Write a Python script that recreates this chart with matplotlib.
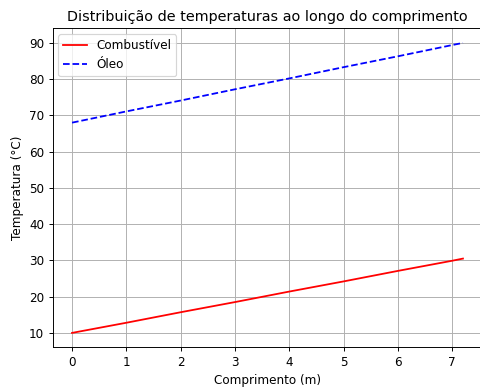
import matplotlib
matplotlib.use('Agg')
import matplotlib.pyplot as plt

comprimento = [0, 1, 2, 3, 4, 5, 6, 7, 7.2]
t_combustivel = [10.0, 12.8, 15.7, 18.5, 21.4, 24.2, 27.1, 29.9, 30.5]
t_oleo = [68.0, 71.1, 74.1, 77.2, 80.2, 83.3, 86.3, 89.4, 90.0]

dpi = 86
fig = plt.figure(figsize=(480 / dpi, 390 / dpi), dpi=dpi)
ax = fig.add_axes([52.5 / 480, 1 - 347.4 / 390, 430 / 480, 319 / 390])

ax.plot(comprimento, t_combustivel, 'r-', label='Combustível')
ax.plot(comprimento, t_oleo, 'b--', label='Óleo')

ax.set_xlabel('Comprimento (m)')
ax.set_ylabel('Temperatura (°C)')
ax.set_title('Distribuição de temperaturas ao longo do comprimento')
ax.legend(loc='upper left')
ax.grid(True)
ax.spines['right'].set_visible(False)
fig.savefig('out.png', dpi=dpi)
